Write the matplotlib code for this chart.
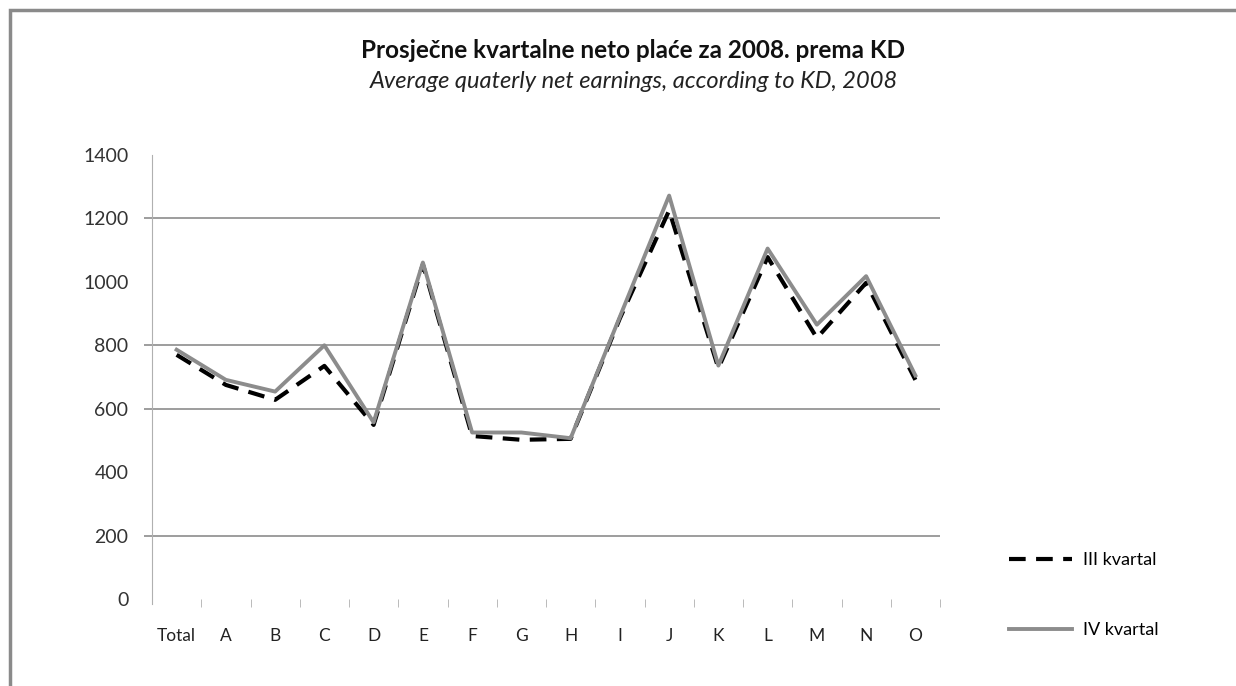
import matplotlib.pyplot as plt
from matplotlib.patches import Rectangle

plt.rcParams['font.family'] = ['Lato', 'DejaVu Sans']

# Podaci
kategorije = ['Total', 'A', 'B', 'C', 'D', 'E', 'F', 'G', 'H', 'I', 'J', 'K', 'L', 'M', 'N', 'O']
iii_kvartal = [770, 675, 628, 735, 549, 1055, 514, 502, 505, 885, 1225, 728, 1078, 823, 997, 691]
iv_kvartal = [786, 691, 654, 800, 557, 1061, 525, 525, 507, 890, 1272, 736, 1105, 865, 1018, 705]
y_ticks = [0, 200, 400, 600, 800, 1000, 1200, 1400]
grid_y = [200, 600, 800, 1200]

fig = plt.figure(figsize=(12.36, 6.86), dpi=100)
fig.patches.append(Rectangle((10 / 1236, -0.1), 1.2, 1 - 10 / 686 + 0.1, transform=fig.transFigure,
                             fill=False, edgecolor='#8a8a8a', linewidth=2.5))

ax = fig.add_axes([152 / 1236, 1 - 599 / 686, (940 - 152) / 1236, (599 - 155) / 686])
x = list(range(len(kategorije)))

# mreža malo izlazi lijevo od osi
ax.hlines(grid_y, -0.66, len(kategorije) - 0.5, color='#8c8c8c', linewidth=1.2, zorder=1, clip_on=False)

ax.plot(x, iii_kvartal, color='black', linewidth=3, linestyle=(0, (4, 2.5)), label='III kvartal', zorder=3)
ax.plot(x, iv_kvartal, color='#8c8c8c', linewidth=2.8, label='IV kvartal', zorder=4)

ax.set_xlim(-0.5, len(kategorije) - 0.5)
ax.set_ylim(0, 1400)
ax.set_yticks(y_ticks)
ax.set_yticklabels([str(v) for v in y_ticks], fontsize=14, color='#333333')
ax.tick_params(axis='y', length=0, pad=17)
ax.set_xticks(x)
ax.set_xticklabels(kategorije, fontsize=12.5, color='#222222')
ax.set_xticks([i + 0.5 for i in range(len(kategorije))], minor=True)
ax.tick_params(axis='x', which='major', length=0, pad=21)
ax.tick_params(axis='x', which='minor', length=6, color='#b0b0b0', direction='out')

for s in ['top', 'right', 'bottom']:
    ax.spines[s].set_visible(False)
ax.spines['left'].set_color('#b0b0b0')
ax.spines['left'].set_bounds(-15, 1400)

fig.text(0.5125, 0.927, 'Prosječne kvartalne neto plaće za 2008. prema KD', ha='center', va='center',
         fontsize=17.5, fontweight='bold', color='#111111')
fig.text(0.5125, 0.881, 'Average quaterly net earnings, according to KD, 2008', ha='center', va='center',
         fontsize=17, style='italic', color='#222222')

fig.legend(loc='upper left', bbox_to_anchor=(993 / 1236, 1 - 536 / 686), frameon=False,
           fontsize=13, handlelength=3.5, labelspacing=3.0, handletextpad=0.6)

fig.savefig('out.png', dpi=100)
